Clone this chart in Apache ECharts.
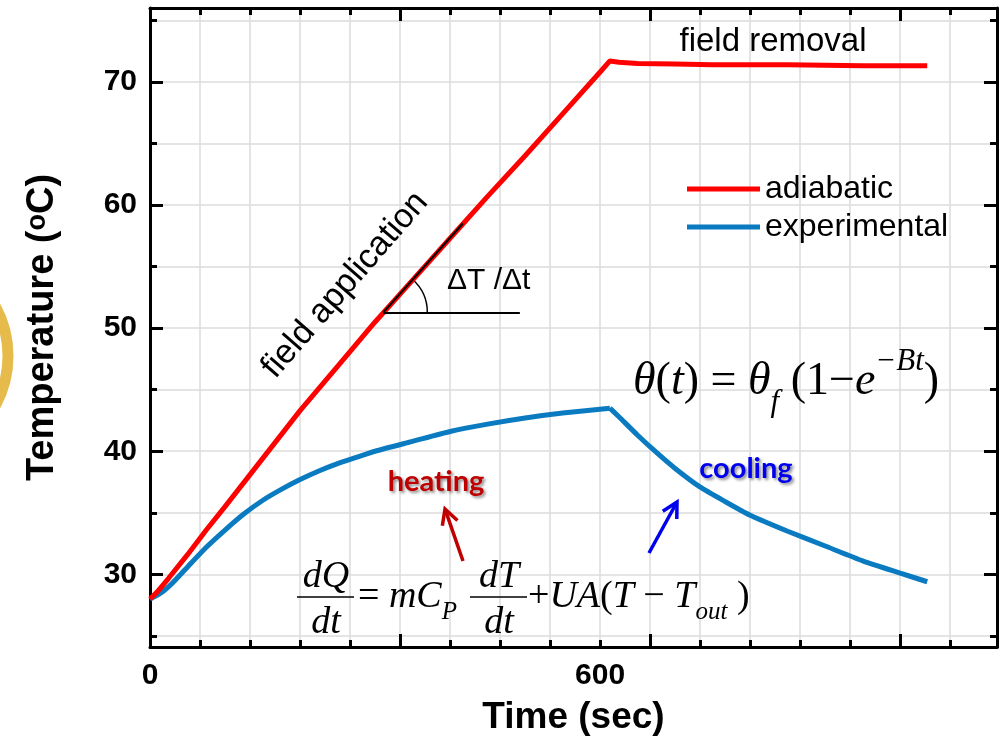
<!DOCTYPE html>
<html>
<head>
<meta charset="utf-8">
<script src="https://cdn.jsdelivr.net/npm/echarts@6/dist/echarts.min.js"></script>
<style>
  html, body { margin: 0; padding: 0; background: #fff; }
  #chart { width: 1002px; height: 749px; }
</style>
</head>
<body>
<div id="chart"></div>
<script>
// time (s) / temperature (°C)
const adiabaticTime = [0, 10, 25, 50, 75, 100, 150, 200, 250, 300, 350, 400, 450, 500, 550, 600, 613, 625, 650, 700, 750, 800, 850, 900, 950, 1000, 1036]
const adiabaticTemp = [28.0, 28.6, 29.7, 31.6, 33.6, 35.5, 39.4, 43.3, 46.9, 50.5, 53.9, 57.3, 60.7, 64.0, 67.4, 70.8, 71.7, 71.6, 71.5, 71.45, 71.4, 71.4, 71.4, 71.35, 71.3, 71.3, 71.3]

const heatTime = [0, 15, 30, 50, 75, 100, 125, 150, 175, 200, 225, 250, 275, 300, 350, 400, 450, 500, 550, 613]
const heatTemp = [28.0, 28.5, 29.3, 30.6, 32.2, 33.6, 34.9, 36.0, 36.9, 37.7, 38.4, 39.0, 39.5, 40.0, 40.8, 41.6, 42.2, 42.7, 43.1, 43.5]
const coolTime = [625, 650, 675, 700, 733, 767, 800, 850, 900, 950, 1000, 1036]
const coolTemp = [42.8, 41.3, 39.9, 38.6, 37.1, 35.9, 34.8, 33.5, 32.3, 31.1, 30.1, 29.4]

const seriesNames = ['adiabatic', 'experimental']
const xLabels = [0, 600]
const yLabels = [30, 40, 50, 60, 70]

// slope annotation (ΔT/Δt) in data units
const slopeStart = [311, 51.28]
const slopeEnd = [417, 58.5]
const slopeBaseEnd = [493, 51.28]

const X_MAX = 1129
const Y_MIN = 24.1
const Y_MAX = 76

const SANS = '"Liberation Sans", Arial, sans-serif'
const SERIF = '"Liberation Serif", "Times New Roman", serif'
const BLACK = '#000'
const GRID_COLOR = '#dcdcdc'

function zip (xs, ys) {
  return xs.map(function (x, i) { return [x, ys[i]] })
}

const frameLine = { show: true, onZero: false, lineStyle: { color: BLACK, width: 3 } }
const majorTick = { show: true, inside: true, length: 13, lineStyle: { color: BLACK, width: 3 } }

function minorTick (n) {
  return { show: true, splitNumber: n, length: 7, lineStyle: { color: BLACK, width: 3 } }
}

const chart = echarts.init(document.getElementById('chart'))

function arrow (tail, tip, color) {
  const dx = tip[0] - tail[0]
  const dy = tip[1] - tail[1]
  const len = Math.hypot(dx, dy)
  const ux = dx / len
  const uy = dy / len
  const h = 15
  const w = 8
  const bx = tip[0] - ux * h
  const by = tip[1] - uy * h
  return [{
    type: 'line',
    shape: { x1: tail[0], y1: tail[1], x2: tip[0] - ux * 2, y2: tip[1] - uy * 2 },
    style: { stroke: color, lineWidth: 3.5 }
  }, {
    type: 'polyline',
    shape: { points: [[bx - uy * w, by + ux * w], tip, [bx + uy * w, by - ux * w]] },
    style: { stroke: color, lineWidth: 3.5, fill: null }
  }]
}

function txt (x, y, text, font, opts) {
  opts = opts || {}
  return {
    type: 'text',
    x: x,
    y: y,
    rotation: opts.rotation || 0,
    style: Object.assign({
      text: text,
      font: font,
      fill: opts.color || BLACK,
      align: opts.align || 'left',
      verticalAlign: 'middle',
      textAlign: opts.align || 'left',
      textVerticalAlign: 'middle'
    }, opts.style || {})
  }
}

const BLUE = '#0a7bc0'
const RED = '#ff0000'

const option = {
  backgroundColor: '#fff',
  animation: false,
  grid: { left: 150, right: 5, top: 8, bottom: 102, containLabel: false },
  legend: {
    data: seriesNames,
    orient: 'vertical',
    left: 682,
    top: 168,
    icon: 'rect',
    itemWidth: 73,
    itemHeight: 5,
    itemGap: 6,
    textStyle: { fontSize: 32, color: BLACK, fontFamily: SANS }
  },
  xAxis: [{
    type: 'value',
    position: 'bottom',
    min: 0,
    max: X_MAX,
    interval: 1000 / 3,
    axisLine: frameLine,
    axisTick: majorTick,
    minorTick: minorTick(5),
    splitLine: { show: true, lineStyle: { color: GRID_COLOR, width: 1.5 } },
    minorSplitLine: { show: true, lineStyle: { color: GRID_COLOR, width: 1.5 } },
    axisLabel: { show: false }
  }, {
    type: 'value',
    position: 'bottom',
    min: 0,
    max: X_MAX,
    interval: 600,
    axisLine: { show: false },
    axisTick: { show: false },
    splitLine: { show: false },
    axisLabel: {
      margin: 14,
      fontSize: 30,
      fontWeight: 'bold',
      fontFamily: SANS,
      color: BLACK,
      formatter: function (v) { return xLabels.indexOf(v) >= 0 ? String(v) : '' }
    },
    name: 'Time (sec)',
    nameLocation: 'middle',
    nameGap: 52,
    nameTextStyle: { fontSize: 37, fontWeight: 'bold', fontFamily: SANS, color: BLACK, verticalAlign: 'top' }
  }, {
    type: 'value',
    position: 'top',
    min: 0,
    max: X_MAX,
    interval: 1000 / 3,
    axisLine: frameLine,
    axisTick: majorTick,
    minorTick: minorTick(5),
    splitLine: { show: false },
    axisLabel: { show: false }
  }],
  yAxis: [{
    type: 'value',
    position: 'left',
    min: Y_MIN,
    max: Y_MAX,
    splitNumber: 5,
    axisLine: frameLine,
    axisTick: majorTick,
    minorTick: minorTick(2),
    splitLine: { show: true, lineStyle: { color: GRID_COLOR, width: 1.5 } },
    minorSplitLine: { show: true, lineStyle: { color: GRID_COLOR, width: 1.5 } },
    axisLabel: {
      margin: 13,
      fontSize: 30,
      fontWeight: 'bold',
      fontFamily: SANS,
      color: BLACK,
      formatter: function (v) {
        const r = Math.round(v)
        return (Math.abs(v - r) < 1e-6 && yLabels.indexOf(r) >= 0) ? String(r) : ''
      }
    },
    name: 'Temperature ({sup|o}C)',
    nameLocation: 'middle',
    nameGap: 88,
    nameTextStyle: {
      fontSize: 38,
      fontWeight: 'bold',
      fontFamily: SANS,
      color: BLACK,
      rich: {
        sup: { fontSize: 27, fontWeight: 'bold', fontFamily: SANS, color: BLACK, lineHeight: 26, verticalAlign: 'top' }
      }
    }
  }, {
    type: 'value',
    position: 'right',
    min: Y_MIN,
    max: Y_MAX,
    splitNumber: 5,
    axisLine: frameLine,
    axisTick: majorTick,
    minorTick: minorTick(2),
    splitLine: { show: false },
    axisLabel: { show: false }
  }],
  series: [{
    name: seriesNames[0],
    type: 'line',
    data: zip(adiabaticTime, adiabaticTemp),
    showSymbol: false,
    smooth: false,
    itemStyle: { color: RED },
    lineStyle: { color: RED, width: 5 },
    z: 3,
    markLine: {
      silent: true,
      symbol: 'none',
      label: { show: false },
      lineStyle: { color: BLACK, width: 2, type: 'solid' },
      data: [
        [{ coord: slopeStart }, { coord: slopeEnd }],
        [{ coord: slopeStart }, { coord: slopeBaseEnd }]
      ]
    }
  }, {
    // heating part of the measured curve (smoothed), peak included
    name: seriesNames[1],
    type: 'line',
    data: zip(heatTime, heatTemp),
    showSymbol: false,
    smooth: 0.2,
    itemStyle: { color: BLUE },
    lineStyle: { color: BLUE, width: 5 },
    z: 2
  }, {
    // cooling part, starting from the peak so the kink stays sharp
    name: seriesNames[1],
    type: 'line',
    data: zip(heatTime.slice(-1).concat(coolTime), heatTemp.slice(-1).concat(coolTemp)),
    showSymbol: false,
    smooth: 0.2,
    itemStyle: { color: BLUE },
    lineStyle: { color: BLUE, width: 5 },
    z: 2
  }]
}

chart.setOption(option)

// annotations, placed after the axes exist so the angle arc sits on the slope line
const c = chart.convertToPixel({ xAxisIndex: 0, yAxisIndex: 0 }, slopeStart)
const e = chart.convertToPixel({ xAxisIndex: 0, yAxisIndex: 0 }, slopeEnd)
const ang = Math.atan2(e[1] - c[1], e[0] - c[0])

const eqRich = {
  i: { fontFamily: SERIF, fontStyle: 'italic', fontSize: 46, lineHeight: 72, fill: BLACK },
  r: { fontFamily: SERIF, fontSize: 46, lineHeight: 72, fill: BLACK },
  sub: { fontFamily: SERIF, fontStyle: 'italic', fontSize: 31, lineHeight: 54, verticalAlign: 'bottom', fill: BLACK },
  sup: { fontFamily: SERIF, fontStyle: 'italic', fontSize: 31, lineHeight: 22, verticalAlign: 'top', fill: BLACK }
}
const dqRich = {
  i: { fontFamily: SERIF, fontStyle: 'italic', fontSize: 38, lineHeight: 56, fill: BLACK },
  r: { fontFamily: SERIF, fontSize: 38, lineHeight: 56, fill: BLACK },
  sub: { fontFamily: SERIF, fontStyle: 'italic', fontSize: 25, lineHeight: 34, verticalAlign: 'bottom', fill: BLACK }
}
const shadow = { textShadowColor: 'rgba(0,0,0,0.45)', textShadowBlur: 3, textShadowOffsetX: 2, textShadowOffsetY: 2 }

const graphics = [
  {
    type: 'arc',
    shape: { cx: -95, cy: 356, r: 103, startAngle: -0.6, endAngle: 0.6 },
    style: { stroke: '#e6bb4c', lineWidth: 11, fill: null }
  },
  txt(773, 42, 'field removal', '33px ' + SANS, { align: 'center' }),
  txt(345, 285, 'field application', '34px ' + SANS, { align: 'center', rotation: 49 * Math.PI / 180 }),
  txt(447, 281, 'ΔT /Δt', '30px ' + SANS),
  {
    type: 'arc',
    shape: { cx: c[0], cy: c[1], r: 44, startAngle: ang, endAngle: 0, clockwise: true },
    style: { stroke: BLACK, lineWidth: 1.5, fill: null }
  },
  {
    type: 'text',
    x: 633,
    y: 382,
    style: {
      text: '{i|θ}{r|(}{i|t}{r|) = }{i|θ}{sub|f}{r| (1−}{i|e}{sup|−Bt}{r|)}',
      rich: eqRich,
      align: 'left',
      verticalAlign: 'middle',
      textAlign: 'left',
      textVerticalAlign: 'middle'
    }
  },
  txt(436, 482, 'heating', 'bold 29px Lato, "Open Sans", sans-serif', { align: 'center', color: '#c00000', style: shadow }),
  txt(746, 469, 'cooling', 'bold 29px Lato, "Open Sans", sans-serif', { align: 'center', color: '#0000ee', style: shadow }),
  txt(326, 577, 'dQ', 'italic 38px ' + SERIF, { align: 'center' }),
  { type: 'line', shape: { x1: 297, y1: 597, x2: 354, y2: 597 }, style: { stroke: BLACK, lineWidth: 1.6 } },
  txt(326, 623, 'dt', 'italic 38px ' + SERIF, { align: 'center' }),
  {
    type: 'text',
    x: 358,
    y: 597,
    style: { text: '{r|= }{i|mC}{sub|P}', rich: dqRich, align: 'left', verticalAlign: 'middle', textAlign: 'left', textVerticalAlign: 'middle' }
  },
  txt(499, 577, 'dT', 'italic 38px ' + SERIF, { align: 'center' }),
  { type: 'line', shape: { x1: 470, y1: 597, x2: 527, y2: 597 }, style: { stroke: BLACK, lineWidth: 1.6 } },
  txt(499, 623, 'dt', 'italic 38px ' + SERIF, { align: 'center' }),
  {
    type: 'text',
    x: 528,
    y: 597,
    style: { text: '{r|+}{i|UA}{r|(}{i|T}{r| − }{i|T}{sub|out}{r| )}', rich: dqRich, align: 'left', verticalAlign: 'middle', textAlign: 'left', textVerticalAlign: 'middle' }
  }
].concat(arrow([463, 561], [445, 509], '#c00000'), arrow([649, 553], [677, 502], '#0000ee'))

chart.setOption({ graphic: { elements: graphics } })
</script>
</body>
</html>
